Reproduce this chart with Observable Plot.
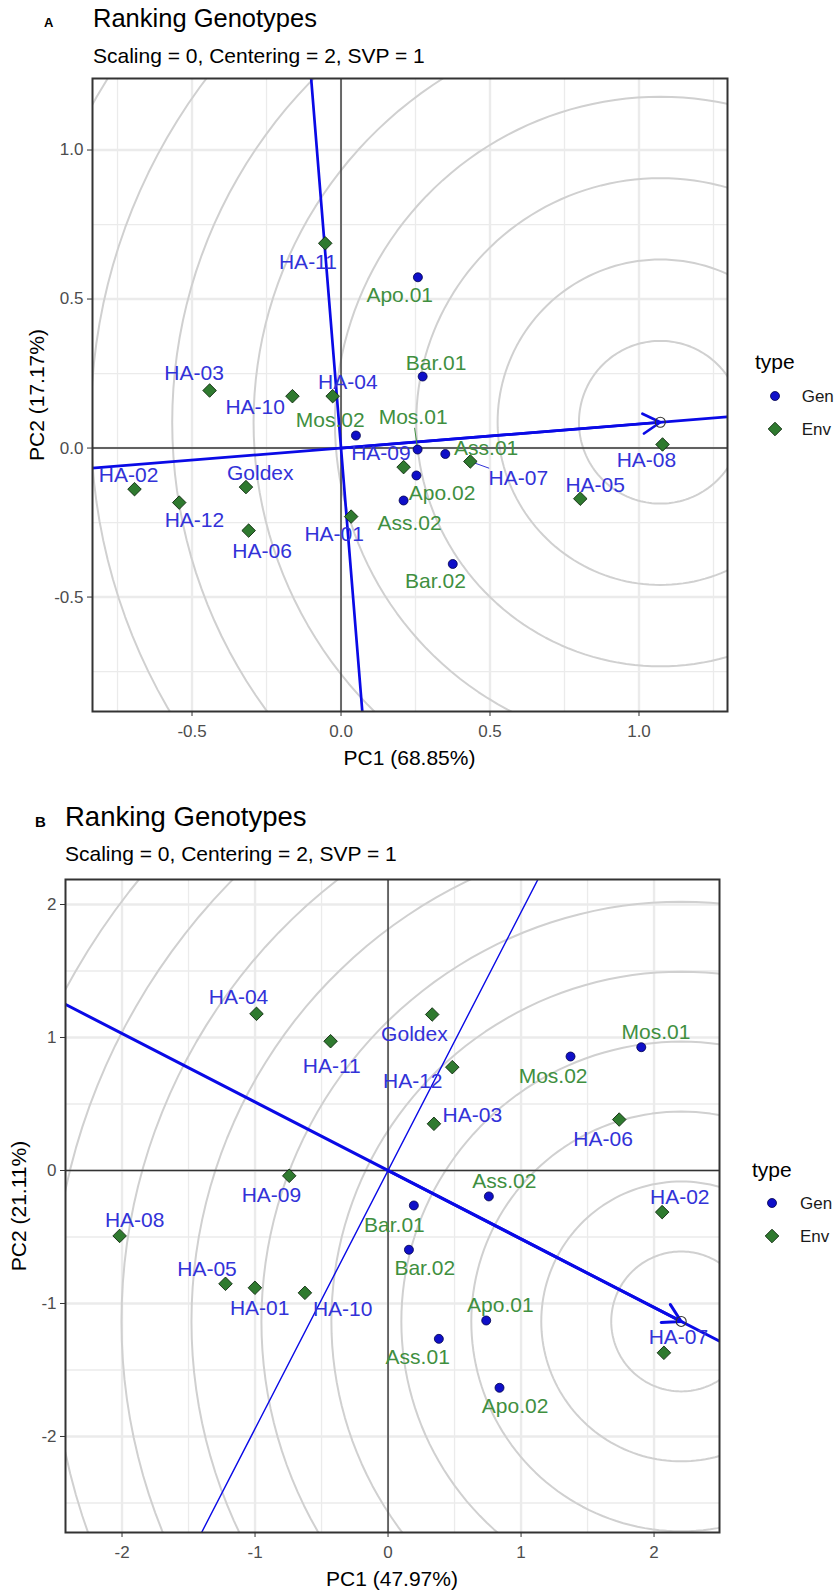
<!DOCTYPE html>
<html><head><meta charset="utf-8">
<script src="https://cdn.jsdelivr.net/npm/d3@7"></script>
<script src="https://cdn.jsdelivr.net/npm/@observablehq/plot@0.6"></script>
<style>
body{margin:0;background:#fff;font-family:"Liberation Sans",Arial,sans-serif;}
#page{position:relative;width:837px;height:1591px;overflow:hidden;background:#fff}
.abs{position:absolute;white-space:nowrap;line-height:1;}
</style></head><body><div id="page"></div>
<script>
// ---------- shared names ----------
const genoNames = ["HA-01","HA-02","HA-03","HA-04","HA-05","HA-06","HA-07","HA-08","HA-09","HA-10","HA-11","HA-12","Goldex"];
const envNames = ["Apo.01","Apo.02","Ass.01","Ass.02","Bar.01","Bar.02","Mos.01","Mos.02"];

// ---------- Panel A ----------
const titleA = "Ranking Genotypes";
const subtitleA = "Scaling = 0, Centering = 2, SVP = 1";
const xLabelA = "PC1 (68.85%)";
const yLabelA = "PC2 (17.17%)";
const genoPC1_A = [0.034,-0.693,-0.441,-0.028,0.803,-0.310,0.434,1.079,0.210,-0.163,-0.053,-0.543,-0.319];
const genoPC2_A = [-0.230,-0.138,0.193,0.174,-0.170,-0.277,-0.045,0.012,-0.064,0.174,0.687,-0.183,-0.131];
const genoLabPC1_A = [-0.023,-0.713,-0.493,0.023,0.853,-0.265,0.595,1.025,0.134,-0.288,-0.111,-0.492,-0.271];
const genoLabPC2_A = [-0.288,-0.092,0.251,0.221,-0.124,-0.346,-0.103,-0.042,-0.017,0.137,0.623,-0.242,-0.085];
const envPC1_A = [0.258,0.253,0.350,0.210,0.274,0.375,0.257,0.050];
const envPC2_A = [0.573,-0.092,-0.020,-0.176,0.240,-0.389,-0.005,0.042];
const envLabPC1_A = [0.197,0.339,0.487,0.230,0.319,0.317,0.242,-0.036];
const envLabPC2_A = [0.513,-0.152,0.000,-0.254,0.284,-0.448,0.103,0.092];
const leadersA = ["HA-07","Mos.01"];
const idealA = [1.0715, 0.0866];
const ringRadiiA = [0.273,0.546,0.819,1.092,1.365,1.638,1.911,2.184,2.457,2.730];
const ticksA = [-0.5,0,0.5,1.0];
const minorA = [-0.75,-0.25,0.25,0.75,1.25];
const xDomainA = [-0.834,1.297];
const yDomainA = [-0.884,1.240];

// ---------- Panel B ----------
const titleB = "Ranking Genotypes";
const subtitleB = "Scaling = 0, Centering = 2, SVP = 1";
const xLabelB = "PC1 (47.97%)";
const yLabelB = "PC2 (21.11%)";
const genoPC1_B = [-1.001,2.061,0.345,-0.989,-1.222,1.738,2.074,-2.018,-0.743,-0.625,-0.432,0.483,0.332];
const genoPC2_B = [-0.882,-0.313,0.351,1.178,-0.852,0.383,-1.371,-0.492,-0.040,-0.920,0.972,0.777,1.173];
const genoLabPC1_B = [-0.965,2.193,0.634,-1.124,-1.361,1.617,2.183,-1.905,-0.877,-0.341,-0.423,0.186,0.198];
const genoLabPC2_B = [-1.035,-0.201,0.419,1.299,-0.739,0.235,-1.253,-0.372,-0.190,-1.045,0.780,0.671,1.024];
const envPC1_B = [0.738,0.838,0.382,0.758,0.194,0.157,1.904,1.372];
const envPC2_B = [-1.128,-1.634,-1.266,-0.195,-0.263,-0.596,0.927,0.857];
const envLabPC1_B = [0.844,0.955,0.223,0.874,0.048,0.276,2.015,1.241];
const envLabPC2_B = [-1.015,-1.773,-1.406,-0.083,-0.411,-0.737,1.040,0.707];
const leadersB = [];
const idealB = [2.204, -1.135];
const ringRadiiB = [0.526,1.052,1.578,2.104,2.630,3.156,3.682,4.208,4.734,5.260];
const ticksB = [-2,-1,0,1,2];
const minorB = [-2.5,-1.5,-0.5,0.5,1.5,2.5];
const xDomainB = [-2.425,2.492];
const yDomainB = [-2.722,2.188];

const legendTitle = "type";
const legendKeys = ["Gen","Env"];

// ---------- styles ----------
const FONT = '"Liberation Sans", Arial, sans-serif';
const COL = {
  genoFill:"#2f7a2f", genoStroke:"#0f2a0f", envFill:"#0f0fc8", envStroke:"#00004a",
  genoText:"#3232d8", envText:"#3f8f3f", line:"#0a0ae6", ring:"#d0d0d0", grid:"#ebebeb",
  axis:"#333333", tick:"#4d4d4d"
};
const page = document.getElementById("page");
const ctx = document.createElement("canvas").getContext("2d");
const LABEL_SIZE = 21;
ctx.font = `${LABEL_SIZE}px "Liberation Sans"`;

function addText(txt, left, baseline, size, opts = {}) {
  const d = document.createElement("div");
  d.className = "abs";
  d.textContent = txt;
  d.style.fontSize = size + "px";
  d.style.left = left + "px";
  d.style.top = (baseline - 0.8465 * size) + "px";
  d.style.color = opts.color || "#000";
  if (opts.bold) d.style.fontWeight = "bold";
  if (opts.center) { d.style.transform = "translateX(-50%)"; }
  page.appendChild(d);
  return d;
}
function addRotated(txt, cx, cy, size) {
  const d = document.createElement("div");
  d.className = "abs";
  d.textContent = txt;
  d.style.fontSize = size + "px";
  d.style.left = cx + "px";
  d.style.top = cy + "px";
  d.style.transform = "translate(-50%,-50%) rotate(-90deg)";
  page.appendChild(d);
}

function panel(cfg) {
  const {ml, mr, mt, mb, top, height} = cfg;
  const width = 837;
  const k = (width - ml - mr) / (cfg.xd[1] - cfg.xd[0]);
  const genos = genoNames.map((n,i) => ({name:n, x:cfg.gx[i], y:cfg.gy[i], lx:cfg.glx[i], ly:cfg.gly[i], col:COL.genoText}));
  const envs = envNames.map((n,i) => ({name:n, x:cfg.ex[i], y:cfg.ey[i], lx:cfg.elx[i], ly:cfg.ely[i], col:COL.envText}));
  const leaders = [...genos, ...envs].filter(d => cfg.leaders.includes(d.name)).map(p => {
    const hw = ctx.measureText(p.name).width / 2 + 2, hh = LABEL_SIZE * 0.5;
    const dx = (p.x - p.lx) * k, dy = (p.y - p.ly) * k;
    const t = Math.min(dx ? hw / Math.abs(dx) : Infinity, dy ? hh / Math.abs(dy) : Infinity);
    return {x1:p.x, y1:p.y, x2:p.lx + t*(p.x - p.lx), y2:p.ly + t*(p.y - p.ly), col:p.col};
  });
  const [ix, iy] = cfg.ideal;
  const rings = cfg.radii.flatMap(r => d3.range(0, 361, 2).map(a => ({r, x: ix + r*Math.cos(a*Math.PI/180), y: iy + r*Math.sin(a*Math.PI/180)})));
  const aec = [{x:-20*ix, y:-20*iy}, {x:20*ix, y:20*iy}];
  const perp = [{x:20*iy, y:-20*ix}, {x:-20*iy, y:20*ix}];
  const inX = v => v >= cfg.xd[0] && v <= cfg.xd[1];
  const inY = v => v >= cfg.yd[0] && v <= cfg.yd[1];
  const svg = Plot.plot({
    width, height, marginLeft:ml, marginRight:mr, marginTop:mt, marginBottom:mb,
    x:{domain:cfg.xd, label:null},
    y:{domain:cfg.yd, label:null},
    style:{fontFamily:FONT, background:"transparent", overflow:"visible"},
    marks:[
      Plot.gridX(cfg.minor.filter(inX), {stroke:COL.grid, strokeOpacity:1, strokeWidth:1.3}),
      Plot.gridY(cfg.minor.filter(inY), {stroke:COL.grid, strokeOpacity:1, strokeWidth:1.3}),
      Plot.gridX(cfg.ticks, {stroke:COL.grid, strokeOpacity:1, strokeWidth:2.4}),
      Plot.gridY(cfg.ticks, {stroke:COL.grid, strokeOpacity:1, strokeWidth:2.4}),
      Plot.line(rings, {x:"x", y:"y", z:"r", stroke:COL.ring, strokeWidth:2, clip:true}),
      Plot.ruleX([0], {stroke:COL.axis, strokeWidth:1.4}),
      Plot.ruleY([0], {stroke:COL.axis, strokeWidth:1.4}),
      Plot.line(aec, {x:"x", y:"y", stroke:COL.line, strokeWidth:cfg.aecWidth, clip:true}),
      Plot.line(perp, {x:"x", y:"y", stroke:COL.line, strokeWidth:cfg.perpWidth, clip:true}),
      Plot.arrow([{x1:0, y1:0, x2:ix, y2:iy}], {x1:"x1", y1:"y1", x2:"x2", y2:"y2", stroke:COL.line, strokeWidth:cfg.aecWidth, headLength:cfg.headLength, headAngle:60}),
      Plot.dot([{x:ix, y:iy}], {x:"x", y:"y", r:5, stroke:"#333", fill:"none", strokeWidth:1.1}),
      Plot.link(leaders, {x1:"x1", y1:"y1", x2:"x2", y2:"y2", stroke:"col", strokeWidth:1}),
      Plot.dot(envs, {x:"x", y:"y", r:4.5, fill:COL.envFill, stroke:COL.envStroke, strokeWidth:0.8}),
      Plot.dot(genos, {x:"x", y:"y", symbol:"diamond2", r:6.1, fill:COL.genoFill, stroke:COL.genoStroke, strokeWidth:0.9}),
      Plot.text(genos, {x:"lx", y:"ly", text:"name", fill:"col", fontSize:LABEL_SIZE}),
      Plot.text(envs, {x:"lx", y:"ly", text:"name", fill:"col", fontSize:LABEL_SIZE}),
      Plot.frame({stroke:COL.axis, strokeWidth:2}),
      Plot.axisX(cfg.ticks, {tickSize:5, tickPadding:8, fontSize:17, fill:COL.tick, stroke:COL.axis, tickFormat:cfg.fmt, label:null}),
      Plot.axisY(cfg.ticks, {tickSize:5, tickPadding:4, fontSize:17, fill:COL.tick, stroke:COL.axis, tickFormat:cfg.fmt, label:null})
    ]
  });
  svg.style.position = "absolute";
  svg.style.left = "0px";
  svg.style.top = top + "px";
  page.appendChild(svg);
}

function legend(titleLeft, titleCenter, keyX, textLeft, genY, envY) {
  addText(legendTitle, titleLeft, titleCenter + 0.3*21, 21);
  const ns = "http://www.w3.org/2000/svg";
  const s = document.createElementNS(ns, "svg");
  s.setAttribute("width", 30); s.setAttribute("height", envY - genY + 30);
  s.style.position = "absolute"; s.style.left = (keyX - 15) + "px"; s.style.top = (genY - 15) + "px";
  const c = document.createElementNS(ns, "circle");
  c.setAttribute("cx", 15); c.setAttribute("cy", 15); c.setAttribute("r", 4.5);
  c.setAttribute("fill", COL.envFill); c.setAttribute("stroke", COL.envStroke); c.setAttribute("stroke-width", 0.8);
  s.appendChild(c);
  const p = document.createElementNS(ns, "path");
  const cy = 15 + envY - genY, h = 6.8;
  p.setAttribute("d", `M15,${cy-h}L${15+h},${cy}L15,${cy+h}L${15-h},${cy}Z`);
  p.setAttribute("fill", COL.genoFill); p.setAttribute("stroke", COL.genoStroke); p.setAttribute("stroke-width", 0.9);
  s.appendChild(p);
  page.appendChild(s);
  addText(legendKeys[0], textLeft, genY + 0.36*17, 17, {color:"#1a1a1a"});
  addText(legendKeys[1], textLeft, envY + 0.36*17, 17, {color:"#1a1a1a"});
}

// ---------- Panel A ----------
addText("A", 44, 27, 13, {bold:true});
addText(titleA, 93, 27.5, 25.5);
addText(subtitleA, 93, 62.5, 21);
panel({top:70, height:700, ml:92, mr:110, mt:8, mb:59,
  xd:xDomainA, yd:yDomainA, ticks:ticksA, minor:minorA, fmt:d => d.toFixed(1),
  gx:genoPC1_A, gy:genoPC2_A, glx:genoLabPC1_A, gly:genoLabPC2_A,
  ex:envPC1_A, ey:envPC2_A, elx:envLabPC1_A, ely:envLabPC2_A,
  leaders:leadersA, ideal:idealA, radii:ringRadiiA, aecWidth:2.7, perpWidth:2.7, headLength:11});
addRotated(yLabelA, 35.7, 394.5, 21);
addText(xLabelA, 409.5, 757 + 0.36*21, 21, {center:true});
legend(755, 362, 775, 801.7, 396, 429);

// ---------- Panel B ----------
addText("B", 35, 827, 15, {bold:true});
addText(titleB, 65, 826, 27.5);
addText(subtitleB, 65, 860.5, 21);
panel({top:871, height:700, ml:65, mr:118, mt:8, mb:39,
  xd:xDomainB, yd:yDomainB, ticks:ticksB, minor:minorB, fmt:d => String(d),
  gx:genoPC1_B, gy:genoPC2_B, glx:genoLabPC1_B, gly:genoLabPC2_B,
  ex:envPC1_B, ey:envPC2_B, elx:envLabPC1_B, ely:envLabPC2_B,
  leaders:leadersB, ideal:idealB, radii:ringRadiiB, aecWidth:3, perpWidth:1.4, headLength:10});
addRotated(yLabelB, 18, 1205.5, 21);
addText(xLabelB, 392, 1578 + 0.36*21, 21, {center:true});
legend(752, 1170, 771.7, 800, 1203, 1236);
</script>
</body></html>
